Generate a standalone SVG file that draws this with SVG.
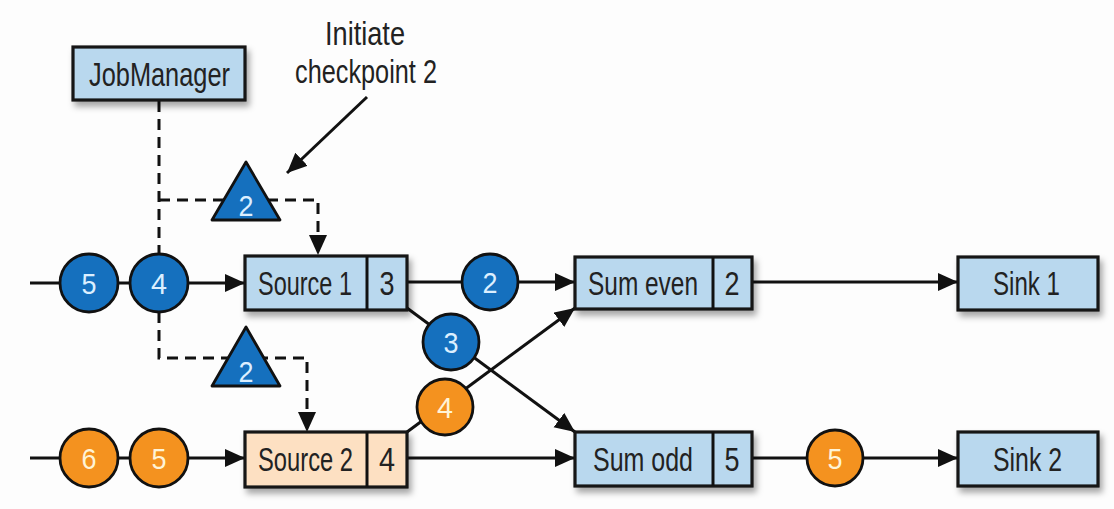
<svg xmlns="http://www.w3.org/2000/svg" width="1114" height="509" viewBox="0 0 1114 509">
<defs>
<filter id="sh" x="-10%" y="-20%" width="130%" height="160%">
<feDropShadow dx="3" dy="5" stdDeviation="3" flood-color="#000" flood-opacity="0.35"/>
</filter>
<marker id="ah" markerUnits="userSpaceOnUse" markerWidth="22" markerHeight="20" refX="20" refY="9" orient="auto">
<path d="M0,0 L20,9 L0,18 Z" fill="#111"/>
</marker>
</defs>
<style>
.box{stroke:#161616;stroke-width:3.2}
.blue{fill:#b9d8ee}
.peach{fill:#fde0c2}
.t{font-family:"Liberation Sans Narrow","Liberation Sans",sans-serif;fill:#222;font-size:30px}
.ct{font-family:"Liberation Sans Narrow","Liberation Sans",sans-serif;font-size:30px;text-anchor:middle}
.cb{fill:#1570be;stroke:#111;stroke-width:2.8}
.co{fill:#f4921f;stroke:#111;stroke-width:2.8}
.wb{fill:#dcefff}
.wo{fill:#fff4d6}
.ln{stroke:#111;stroke-width:3;fill:none}
.dash{stroke:#111;stroke-width:3;fill:none;stroke-dasharray:11 7}
</style>
<rect width="1114" height="509" fill="#fdfdfd"/>

<g id="connectors">
<line class="ln" x1="30" y1="283" x2="245" y2="283" marker-end="url(#ah)"/>
<line class="ln" x1="30" y1="458" x2="245" y2="458" marker-end="url(#ah)"/>
<line class="ln" x1="407" y1="282" x2="575" y2="282" marker-end="url(#ah)"/>
<line class="ln" x1="407" y1="308" x2="575" y2="432" marker-end="url(#ah)"/>
<line class="ln" x1="407" y1="432" x2="575" y2="308" marker-end="url(#ah)"/>
<line class="ln" x1="407" y1="458" x2="575" y2="458" marker-end="url(#ah)"/>
<line class="ln" x1="752" y1="282" x2="958" y2="282" marker-end="url(#ah)"/>
<line class="ln" x1="752" y1="458" x2="958" y2="458" marker-end="url(#ah)"/>
<line class="ln" x1="367" y1="97" x2="287" y2="173" stroke-width="3.5" marker-end="url(#ah)"/>
<polyline class="dash" points="159,101 159,254"/>
<polyline class="dash" points="159,200 318,200 318,255" marker-end="url(#ah)"/>
<polyline class="dash" points="159,312 159,358 307,358 307,432" marker-end="url(#ah)"/>
</g>

<g id="jobmanager">
<rect class="box blue" x="73" y="47" width="172" height="53" filter="url(#sh)"/>
<text class="t" x="89" y="86" font-size="31" textLength="141" lengthAdjust="spacingAndGlyphs" transform="matrix(1,0,0,1.08,0,-6.88)">JobManager</text>
</g>

<g id="label-initiate">
<text class="t" x="325" y="45" font-size="31" textLength="80" lengthAdjust="spacingAndGlyphs" transform="matrix(1,0,0,1.08,0,-3.6)">Initiate</text>
<text class="t" x="295" y="83" font-size="31" textLength="142" lengthAdjust="spacingAndGlyphs" transform="matrix(1,0,0,1.08,0,-6.64)">checkpoint 2</text>
</g>

<g id="barrier-1">
<polygon points="246,162 212,220 280,220" fill="#1570be" stroke="#111" stroke-width="2.8" stroke-linejoin="round"/>
<text class="ct wb" x="246" y="216" textLength="15" lengthAdjust="spacingAndGlyphs">2</text>
</g>
<g id="barrier-2">
<polygon points="246,327 212,386 280,386" fill="#1570be" stroke="#111" stroke-width="2.8" stroke-linejoin="round"/>
<text class="ct wb" x="246" y="382" textLength="15" lengthAdjust="spacingAndGlyphs">2</text>
</g>

<g id="source1">
<rect class="box blue" x="245" y="256" width="162" height="54" filter="url(#sh)"/>
<line class="ln" x1="367" y1="256" x2="367" y2="310" stroke-width="3"/>
<g transform="matrix(1,0,0,1.1,0,-29.5)">
<text class="t" x="258" y="295" textLength="94" lengthAdjust="spacingAndGlyphs">Source 1</text>
<text class="t" x="387" y="295" text-anchor="middle" textLength="15" lengthAdjust="spacingAndGlyphs">3</text>
</g>
</g>
<g id="source2">
<rect class="box peach" x="245" y="432" width="162" height="55" filter="url(#sh)"/>
<line class="ln" x1="367" y1="432" x2="367" y2="487" stroke-width="3"/>
<g transform="matrix(1,0,0,1.1,0,-47.1)">
<text class="t" x="258" y="471" textLength="95" lengthAdjust="spacingAndGlyphs">Source 2</text>
<text class="t" x="387" y="471" text-anchor="middle" textLength="16" lengthAdjust="spacingAndGlyphs">4</text>
</g>
</g>
<g id="sumeven">
<rect class="box blue" x="575" y="257" width="177" height="52" filter="url(#sh)"/>
<line class="ln" x1="713" y1="257" x2="713" y2="309" stroke-width="3"/>
<g transform="matrix(1,0,0,1.1,0,-29.5)">
<text class="t" x="588" y="295" textLength="110" lengthAdjust="spacingAndGlyphs">Sum even</text>
<text class="t" x="732" y="295" text-anchor="middle" textLength="15" lengthAdjust="spacingAndGlyphs">2</text>
</g>
</g>
<g id="sumodd">
<rect class="box blue" x="575" y="432" width="177" height="54" filter="url(#sh)"/>
<line class="ln" x1="713" y1="432" x2="713" y2="486" stroke-width="3"/>
<g transform="matrix(1,0,0,1.1,0,-47.1)">
<text class="t" x="593" y="471" textLength="100" lengthAdjust="spacingAndGlyphs">Sum odd</text>
<text class="t" x="732" y="471" text-anchor="middle" textLength="15" lengthAdjust="spacingAndGlyphs">5</text>
</g>
</g>
<g id="sink1">
<rect class="box blue" x="958" y="257" width="140" height="53" filter="url(#sh)"/>
<text class="t" x="993" y="295" textLength="67" lengthAdjust="spacingAndGlyphs" transform="matrix(1,0,0,1.1,0,-29.5)">Sink 1</text>
</g>
<g id="sink2">
<rect class="box blue" x="958" y="432" width="140" height="54" filter="url(#sh)"/>
<text class="t" x="993" y="471" textLength="69" lengthAdjust="spacingAndGlyphs" transform="matrix(1,0,0,1.1,0,-47.1)">Sink 2</text>
</g>

<g id="rec-top-5"><circle class="cb" cx="89" cy="283" r="29"/><text class="ct wb" x="89" y="294" textLength="15" lengthAdjust="spacingAndGlyphs">5</text></g>
<g id="rec-top-4"><circle class="cb" cx="159" cy="283" r="29"/><text class="ct wb" x="159" y="294" textLength="16" lengthAdjust="spacingAndGlyphs">4</text></g>
<g id="rec-bot-6"><circle class="co" cx="89" cy="458" r="29"/><text class="ct wo" x="89" y="469" textLength="15" lengthAdjust="spacingAndGlyphs">6</text></g>
<g id="rec-bot-5"><circle class="co" cx="159" cy="458" r="29"/><text class="ct wo" x="159" y="469" textLength="15" lengthAdjust="spacingAndGlyphs">5</text></g>
<g id="rec-2"><circle class="cb" cx="490" cy="282" r="28"/><text class="ct wb" x="490" y="293" textLength="15" lengthAdjust="spacingAndGlyphs">2</text></g>
<g id="rec-3"><circle class="cb" cx="451" cy="342" r="28"/><text class="ct wb" x="451" y="353" textLength="15" lengthAdjust="spacingAndGlyphs">3</text></g>
<g id="rec-4"><circle class="co" cx="445" cy="407" r="28"/><text class="ct wo" x="445" y="418" textLength="16" lengthAdjust="spacingAndGlyphs">4</text></g>
<g id="rec-5"><circle class="co" cx="835" cy="458" r="28"/><text class="ct wo" x="835" y="469" textLength="15" lengthAdjust="spacingAndGlyphs">5</text></g>
</svg>
